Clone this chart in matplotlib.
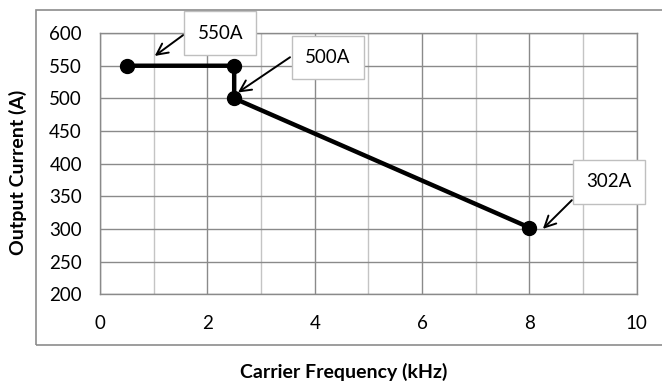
import matplotlib
matplotlib.use("Agg")
import matplotlib.pyplot as plt
from matplotlib.patches import Rectangle
from matplotlib.ticker import MultipleLocator

plt.rcParams['font.family'] = ['Lato', 'DejaVu Sans']

# Derating curve: output current vs carrier frequency
freq_khz = [0.5, 2.5, 2.5, 8.0]
current_a = [550, 550, 500, 302]

# Callout labels: (text, box centre, arrow start, arrow tip)
callout_text = ["550A", "500A", "302A"]
callout_box = [(2.24, 600), (4.25, 563), (9.48, 372)]
callout_start = [(1.55, 597), (3.54, 563), (8.79, 344)]
callout_tip = [(1.02, 565), (2.57, 509), (8.25, 300)]

x_ticks = [0, 2, 4, 6, 8, 10]
y_ticks = [200, 250, 300, 350, 400, 450, 500, 550, 600]

fig = plt.figure(figsize=(6.62, 3.85), dpi=100)
fig.patches.append(Rectangle((0.054, 0.104), 1.0, 0.870, transform=fig.transFigure,
                             fill=False, edgecolor='#8c8c8c', linewidth=1.2))

ax = fig.add_axes([0.151, 0.236, 0.811, 0.678])
ax.set_xlim(0, 10)
ax.set_ylim(200, 600)
ax.set_xticks(x_ticks)
ax.set_yticks(y_ticks)
ax.xaxis.set_minor_locator(MultipleLocator(1))
ax.grid(which='major', color='#8a8a8a', linewidth=1.0)
ax.grid(which='minor', axis='x', color='#c4c4c4', linewidth=1.0)
ax.set_axisbelow(True)
for side in ['top', 'right', 'left', 'bottom']:
    ax.spines[side].set_color('#8a8a8a')
    ax.spines[side].set_linewidth(1.0)
ax.tick_params(which='both', length=0, labelsize=13.5)
ax.tick_params(axis='y', pad=13)
ax.tick_params(axis='x', pad=15)

ax.plot(freq_khz, current_a, color='black', linewidth=3.2, marker='o',
        markersize=10, solid_capstyle='round', zorder=3)

for text, box, start, tip in zip(callout_text, callout_box, callout_start, callout_tip):
    ax.annotate('', xy=tip, xytext=start,
                arrowprops=dict(arrowstyle='->,head_length=0.8,head_width=0.4',
                                color='black', linewidth=1.4,
                                shrinkA=0, shrinkB=0), zorder=4)
    ax.text(box[0], box[1], text, ha='center', va='center', fontsize=13.5,
            bbox=dict(boxstyle='square,pad=0.7', facecolor='white',
                      edgecolor='#bfbfbf', linewidth=1.0), zorder=5)

fig.text(0.519, 0.035, 'Carrier Frequency (kHz)', ha='center', va='center',
         fontsize=14, fontweight='bold')
fig.text(0.027, 0.553, 'Output Current (A)', ha='center', va='center',
         rotation=90, fontsize=14, fontweight='bold')

fig.savefig('out.png', dpi=100)
